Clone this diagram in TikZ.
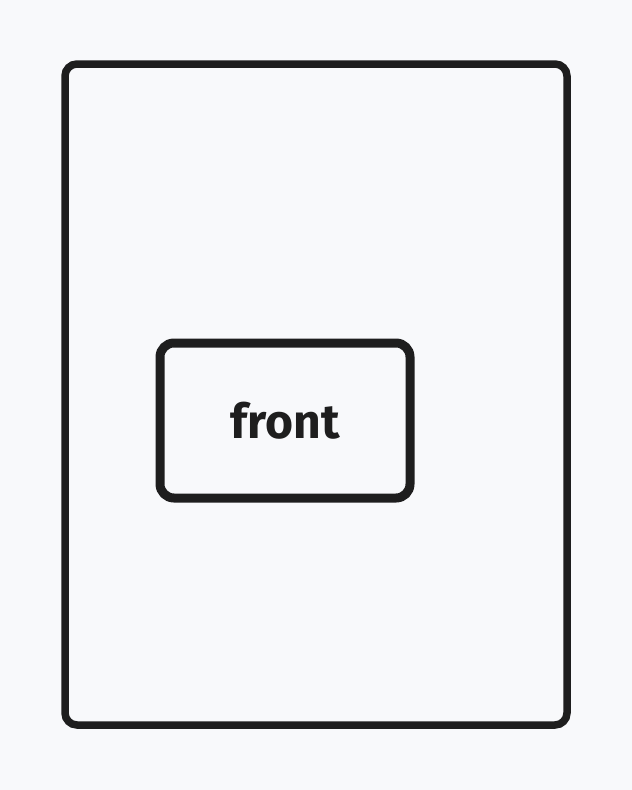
\documentclass[tikz,border=0pt]{standalone}
\usepackage{fontspec}
\setmainfont{Fira Sans}
\definecolor{ink}{HTML}{1E1E1E}
\definecolor{paper}{HTML}{F8F9FB}
\tikzset{
  frame/.style={draw=ink, line width=7.5pt, rounded corners=12pt, inner sep=0pt},
  label box/.style={draw=ink, line width=9pt, rounded corners=14pt, inner sep=0pt,
    font=\fontsize{48}{48}\selectfont\bfseries, text=ink},
}
\begin{document}
\begin{tikzpicture}[x=1pt, y=-1pt]
   \fill[paper] (0,0) rectangle (632,790);
   \useasboundingbox (0,0) rectangle (632,790);
   \node[frame, minimum width=502pt, minimum height=661pt] (page) at (316,394.5) {};
   \node[label box, minimum width=250pt, minimum height=155pt] (front) at (285,420.5) {front};
  \end{tikzpicture}
\end{document}
